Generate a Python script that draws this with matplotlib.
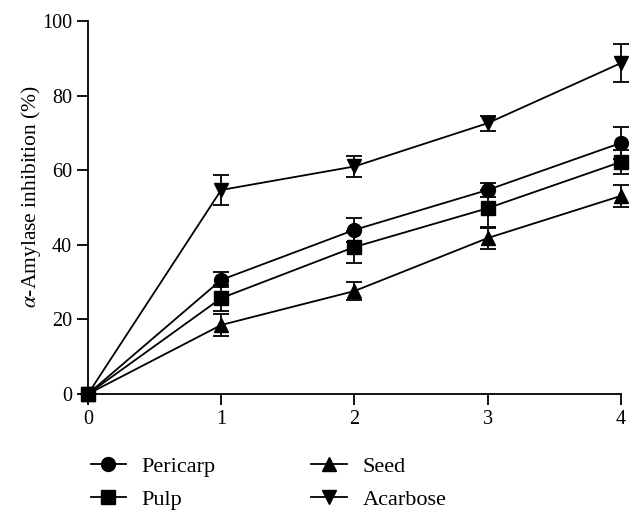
import matplotlib
matplotlib.use("Agg")
import matplotlib.pyplot as plt
from matplotlib.lines import Line2D

plt.rcParams["font.family"] = ["Liberation Serif", "DejaVu Serif"]
plt.rcParams["mathtext.fontset"] = "stix"

# concentration steps on the x axis
doses = [0, 1, 2, 3, 4]

# inhibition (%) and error
pericarp = [0, 30.6, 44.0, 54.7, 67.3]
pericarp_err = [0, 2.0, 3.3, 2.0, 4.3]
pulp = [0, 25.7, 39.4, 49.8, 62.2]
pulp_err = [0, 3.5, 4.3, 5.0, 3.3]
seed = [0, 18.5, 27.6, 41.8, 53.1]
seed_err = [0, 3.0, 2.4, 2.8, 2.9]
acarbose = [0, 54.7, 61.0, 72.6, 88.7]
acarbose_err = [0, 4.0, 2.8, 2.0, 5.0]

series = [
    ("Pericarp", pericarp, pericarp_err, "o"),
    ("Pulp", pulp, pulp_err, "s"),
    ("Seed", seed, seed_err, "^"),
    ("Acarbose", acarbose, acarbose_err, "v"),
]

fig = plt.figure(figsize=(6.42, 5.25), dpi=100)
ax = fig.add_axes([0.137, 0.2495, 0.83, 0.7105])

handles = []
for name, ys, errs, mk in series:
    ax.errorbar(doses, ys, yerr=errs, color="black", marker=mk,
                markersize=10, linewidth=1.3, elinewidth=1.3,
                capsize=6, capthick=1.3, clip_on=False)
    handles.append(Line2D([], [], color="black", marker=mk,
                          markersize=10, linewidth=1.3))

ax.set_xlim(0, 4)
ax.set_ylim(0, 100)
ax.set_xticks([0, 1, 2, 3, 4])
ax.set_yticks([0, 20, 40, 60, 80, 100])
ax.spines["top"].set_visible(False)
ax.spines["right"].set_visible(False)
ax.spines["left"].set_linewidth(1.3)
ax.spines["bottom"].set_linewidth(1.3)
ax.tick_params(direction="out", length=8, width=1.3, labelsize=14.5)
ax.set_ylabel(r"$\alpha$-Amylase inhibition (%)", fontsize=15.5)
ax.yaxis.set_label_coords(-0.084, 0.53)

fig.legend(handles=handles, labels=[s[0] for s in series], ncol=2,
           loc="upper left", bbox_to_anchor=(0.11, 0.169), frameon=False,
           fontsize=16, handlelength=1.6, columnspacing=4.3,
           handletextpad=0.7, labelspacing=0.55)

fig.savefig("out.png", dpi=100)
